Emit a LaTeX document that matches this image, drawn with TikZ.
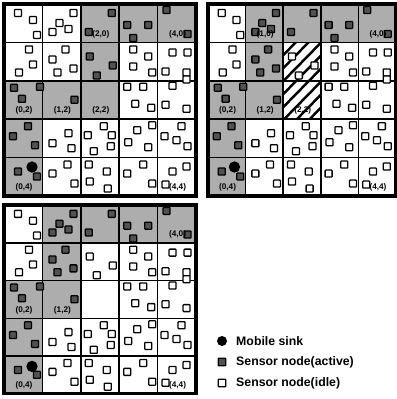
\documentclass[tikz,border=0pt]{standalone}
\usepackage{fontspec}
\setmainfont{Liberation Sans}
\usetikzlibrary{positioning}
\tikzset{
  cellline/.style={line width=1.3pt},
  frameline/.style={line width=2.6pt},
  activecell/.style={fill=black!32},
  hatchline/.style={line width=2.1pt},
  idlenode/.style={draw, fill=white, line width=1.1pt, rounded corners=0.6pt, minimum size=0.21cm, inner sep=0pt},
  actnode/.style={idlenode, fill=black!68},
  sink/.style={circle, fill=black, minimum size=0.34cm, inner sep=0pt},
  celllbl/.style={font=\fontsize{7}{8}\selectfont\bfseries, inner sep=0pt},
  legtxt/.style={font=\fontsize{10.5}{12}\selectfont\bfseries, anchor=west, inner sep=0pt}
}
% sensor positions: column/row/x/y (x,y in px inside the cell)
\newcommand{\nodelist}{0/0/14/9, 0/0/29/16, 0/0/33/31,
  1/0/31/9, 1/0/17/19, 1/0/26/25, 1/0/10/28,
  2/0/31/9, 2/0/8/28,
  3/0/8/21, 3/0/29/21, 3/0/14/34,
  4/0/9/6, 4/0/30/30,
  0/1/25/7, 0/1/29/22, 0/1/15/30,
  1/1/23/7, 1/1/10/17, 1/1/15/30, 1/1/31/26,
  2/1/9/14, 2/1/32/23, 2/1/16/33,
  3/1/14/7, 3/1/29/14, 3/1/14/24, 3/1/33/30,
  4/1/15/10, 4/1/30/10, 4/1/8/29, 4/1/29/30, 4/1/29/37,
  0/2/10/7, 0/2/36/6, 0/2/18/18,
  1/2/32/19,
  3/2/8/6, 3/2/24/6, 3/2/16/23, 3/2/32/27,
  4/2/15/5, 4/2/8/24, 4/2/29/28,
  0/3/24/7, 0/3/9/17, 0/3/31/26,
  1/3/26/14, 1/3/10/24, 1/3/29/29,
  2/3/23/7, 2/3/7/16, 2/3/31/16, 2/3/30/27, 2/3/13/32,
  3/3/33/6, 3/3/18/11, 3/3/9/23, 3/3/29/28,
  4/3/24/7, 4/3/7/17, 4/3/19/21, 4/3/30/27,
  0/4/14/14, 0/4/33/19,
  1/4/25/7, 1/4/10/16, 1/4/32/26,
  2/4/8/7, 2/4/26/14, 2/4/9/24, 2/4/27/31,
  3/4/24/7, 3/4/8/16, 3/4/33/26,
  4/4/29/9, 4/4/15/14, 4/4/8/27}
\newcommand{\markcells}[2]{\foreach \col/\rw in {#2}{%
  \fill[activecell] (\col*38.4,\rw*38.4) rectangle ++(38.4,38.4);
  \expandafter\gdef\csname on#1-\col-\rw\endcsname{}}}
\newcommand{\cellframe}{\foreach \i in {1,...,4}{%
    \draw[cellline] (\i*38.4,0) -- (\i*38.4,192);
    \draw[cellline] (0,\i*38.4) -- (192,\i*38.4);}
  \draw[frameline] (0,0) rectangle (192,192)}
\newcommand{\sensors}[1]{\foreach \col/\rw/\dx/\dy in \nodelist{%
  \ifcsname on#1-\col-\rw\endcsname
    \node[actnode] (s#1-\col-\rw-\dx-\dy) at (\col*38.4+\dx,\rw*38.4+\dy) {};
  \else
    \node[idlenode] (s#1-\col-\rw-\dx-\dy) at (\col*38.4+\dx,\rw*38.4+\dy) {};
  \fi}}
\newcommand{\celllabels}[2]{\foreach \col/\rw in {#2}{%
  \node[celllbl] (l#1-\col-\rw) at (\col*38.4+20,\rw*38.4+30) {(\col,\rw)};}}

\begin{document}
\begin{tikzpicture}[x=0.03cm, y=-0.03cm]
  \useasboundingbox (0,0) rectangle (396,399);

  % first round
  \begin{scope}[shift={(4,4)}]
    \markcells{a}{2/0,3/0,4/0,2/1,0/2,1/2,2/2,0/3,0/4}
    \cellframe;
    \sensors{a}
    \node[sink] (sinka) at (28,163) {};
    \celllabels{a}{2/0,4/0,0/2,1/2,2/2,0/4,4/4}
  \end{scope}

  % second round
  \begin{scope}[shift={(208,4)}, xscale=0.979]
    \markcells{b}{1/0,2/0,3/0,4/0,1/1,0/2,1/2,0/3,0/4}
    \begin{scope}
      \clip (2*38.4,38.4) rectangle (3*38.4,3*38.4);
      \foreach \h in {-10,3,...,120}
        \draw[hatchline] (\h,125) -- ++(90,-90);
    \end{scope}
    \cellframe;
    \sensors{b}
    \node[sink] (sinkb) at (27,163) {};
    \celllabels{b}{1/0,4/0,0/2,1/2,2/2,0/4,4/4}
  \end{scope}

  % third round
  \begin{scope}[shift={(4,205)}, yscale=0.984]
    \markcells{c}{1/0,2/0,3/0,4/0,1/1,0/2,1/2,0/3,0/4}
    \cellframe;
    \sensors{c}
    \node[sink] (sinkc) at (28,164) {};
    \celllabels{c}{4/0,0/2,1/2,0/4,4/4}
  \end{scope}

  % legend
  \node[sink, minimum size=0.3cm] (legsink) at (222,341) {};
  \node[legtxt] (legsinktxt) at (236,341) {Mobile sink};
  \node[actnode, minimum size=0.23cm] (legact) at (222,362) {};
  \node[legtxt] (legacttxt) at (236,362) {Sensor node(active)};
  \node[idlenode, minimum size=0.23cm] (legidle) at (222,383) {};
  \node[legtxt] (legidletxt) at (236,383) {Sensor node(idle)};
\end{tikzpicture}
\end{document}
